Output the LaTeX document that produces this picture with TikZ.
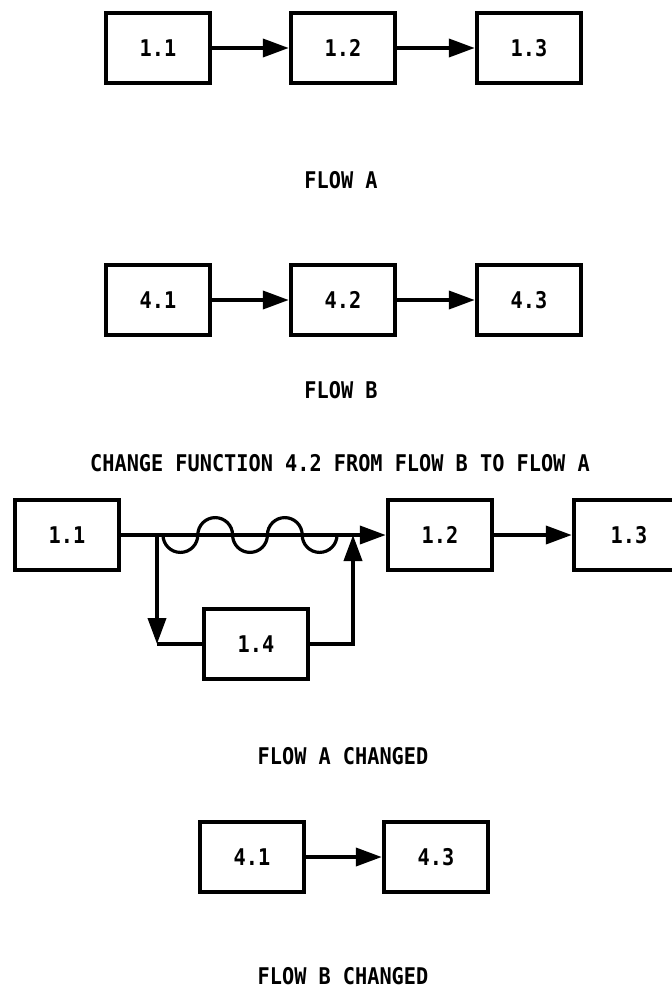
\documentclass[tikz,border=0pt]{standalone}
\usepackage{fontspec}
\newfontfamily\typefont[FakeStretch=0.88]{DejaVu Sans Mono}
\newcommand{\monoall}{\typefont\bfseries\fontsize{11.5}{13.5}\selectfont}
\usepackage{tikz}
\usetikzlibrary{arrows.meta}
\tikzset{
  blk/.style={draw, line width=2.2pt, minimum width=52pt, minimum height=35pt,
              inner sep=0pt, font=\monoall},
  ar/.style={-{Triangle[length=13pt,width=9pt]}, line width=1.9pt},
  lbl/.style={font=\monoall},
  wave/.style={line width=1.6pt},
}

\begin{document}
\begin{tikzpicture}[x=0.5pt, y=-0.5pt]
  \useasboundingbox (0,0) rectangle (671,990);

  % --- flow A ---
  \node[blk] (a1) at (158,48) {1.1};
  \node[blk] (a2) at (343,48) {1.2};
  \node[blk] (a3) at (529,48) {1.3};
  \draw[ar] (a1) -- (a2);
  \draw[ar] (a2) -- (a3);
  \node[lbl] (flowA) at (341,180) {FLOW A};

  % --- flow B ---
  \node[blk] (b1) at (158,300) {4.1};
  \node[blk] (b2) at (343,300) {4.2};
  \node[blk] (b3) at (529,300) {4.3};
  \draw[ar] (b1) -- (b2);
  \draw[ar] (b2) -- (b3);
  \node[lbl] (flowB) at (341,390) {FLOW B};

  \node[lbl] (change) at (340,463) {CHANGE FUNCTION 4.2 FROM FLOW B TO FLOW A};

  % --- flow A changed: 1.4 inserted between 1.1 and 1.2 ---
  \node[blk] (c1) at (67,535) {1.1};
  \node[blk] (c2) at (440,535) {1.2};
  \node[blk, minimum width=55pt] (c3) at (629,535) {1.3};
  \node[blk] (c4) at (256,644) {1.4};
  \draw[ar] (c1) -- (c2);
  \draw[ar] (c2) -- (c3);
  \coordinate (split) at (157,535);
  \coordinate (join) at (353,535);
  \coordinate (w0) at (163,535);
  % old link, crossed out by the wavy line
  \draw[wave] (w0) \foreach \a in {360,0,360,0,360}{
    arc[start angle=180, end angle=\a, radius=8.7pt] };
  \draw[ar] (split) -- (split |- c4);
  \draw[line width=1.9pt] (split |- c4) -- (c4.west);
  \draw[ar] (c4.east) -| (join);
  \node[lbl] (flowAc) at (343,756) {FLOW A CHANGED};

  % --- flow B changed ---
  \node[blk] (d1) at (252,857) {4.1};
  \node[blk] (d3) at (436,857) {4.3};
  \draw[ar] (d1) -- (d3);
  \node[lbl] (flowBc) at (343,976) {FLOW B CHANGED};
\end{tikzpicture}
\end{document}
